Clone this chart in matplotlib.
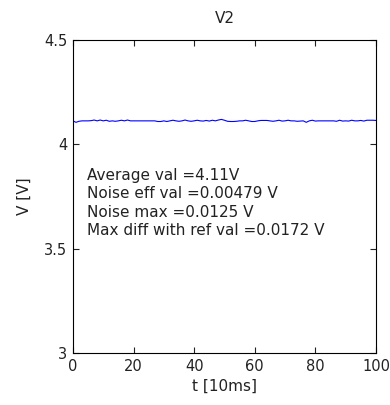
import matplotlib
matplotlib.use("Agg")
import matplotlib.pyplot as plt

plt.rcParams['font.family'] = ['DejaVu Sans']

# sampled V2 voltage, one sample per 10 ms
t = list(range(0, 101))
v2 = [
    4.113, 4.106, 4.111, 4.113, 4.113, 4.113, 4.114, 4.117, 4.113, 4.117,
    4.113, 4.116, 4.111, 4.113, 4.111, 4.113, 4.116, 4.113, 4.117, 4.113,
    4.113, 4.113, 4.113, 4.113, 4.113, 4.113, 4.113, 4.113, 4.110, 4.110,
    4.113, 4.110, 4.113, 4.116, 4.113, 4.111, 4.113, 4.117, 4.113, 4.111,
    4.113, 4.116, 4.113, 4.112, 4.115, 4.112, 4.116, 4.113, 4.117, 4.120,
    4.116, 4.111, 4.110, 4.110, 4.111, 4.113, 4.113, 4.116, 4.113, 4.110,
    4.110, 4.113, 4.115, 4.115, 4.115, 4.113, 4.111, 4.113, 4.116, 4.112,
    4.113, 4.116, 4.113, 4.113, 4.111, 4.112, 4.113, 4.106, 4.113, 4.116,
    4.112, 4.113, 4.113, 4.113, 4.113, 4.113, 4.113, 4.111, 4.116, 4.112,
    4.113, 4.112, 4.116, 4.113, 4.113, 4.115, 4.112, 4.116, 4.116, 4.116,
    4.115,
]

stats = [
    "Average val =4.11V",
    "Noise eff val =0.00479 V",
    "Noise max =0.0125 V",
    "Max diff with ref val =0.0172 V",
]

fig = plt.figure(figsize=(3.9, 4.05), dpi=100)
ax = fig.add_axes([0.187, 0.128, 0.777, 0.773])
ax.plot(t, v2, color='#0000ff', linewidth=0.8)

ax.set_xlim(0, 100)
ax.set_ylim(3, 4.5)
ax.set_xticks([0, 20, 40, 60, 80, 100])
ax.set_yticks([3, 3.5, 4, 4.5])
ax.set_yticklabels(['3', '3.5', '4', '4.5'])
ax.tick_params(direction='in', top=True, right=True, length=4, width=0.8,
               labelsize=10.5, pad=4, colors='#222222', labelcolor='#222222')
for s in ax.spines.values():
    s.set_linewidth(0.8)

ax.set_title("V2", fontsize=11, pad=12, color='#222222')
ax.set_xlabel("t [10ms]", fontsize=11, labelpad=4, color='#222222')
ax.set_ylabel("V [V]", fontsize=11, labelpad=9, color='#222222')

y0 = 3.853
for i, line in enumerate(stats):
    ax.text(4.7, y0 - i * 0.0887, line, fontsize=11, va='center', ha='left',
            color='#222222')

fig.savefig("out.png", dpi=100)
